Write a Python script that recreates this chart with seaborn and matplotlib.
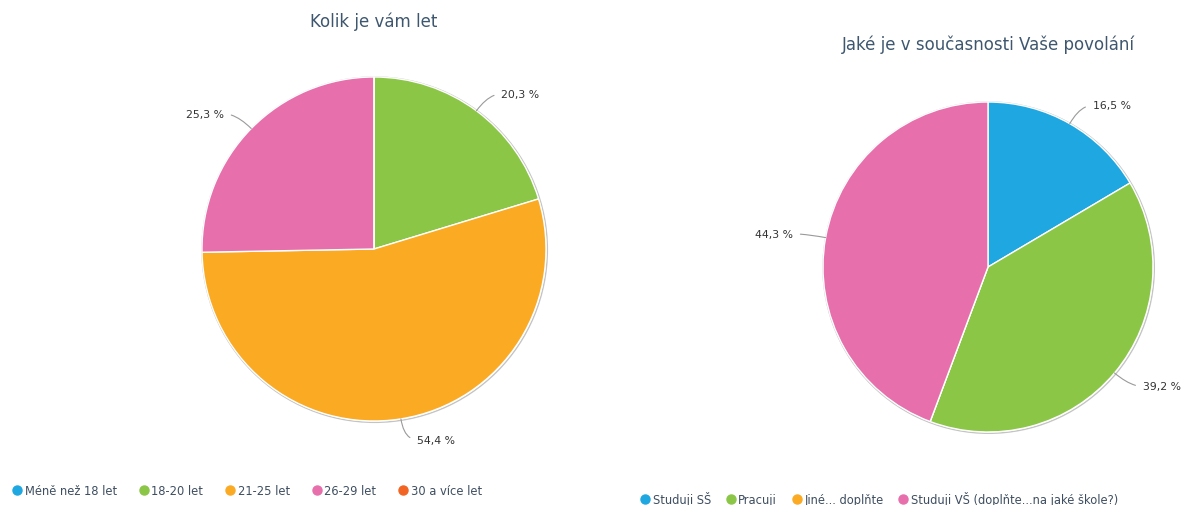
"""
Two survey pie charts (age, occupation) side by side.
"""

import numpy as np
import matplotlib
matplotlib.use("Agg")
import matplotlib.pyplot as plt
import seaborn as sns
from matplotlib.lines import Line2D
from matplotlib.patches import Circle

sns.set_theme(style="white")
plt.rcParams['font.family'] = ['DejaVu Sans']

# data
age_title = "Kolik je vám let"
age_labels = ["Méně než 18 let", "18-20 let", "21-25 let", "26-29 let", "30 a více let"]
age_values = [0.0, 20.3, 54.4, 25.3, 0.0]
age_colors = ["#1EA7E1", "#8BC647", "#FBAA24", "#E66FAC", "#F26423"]

job_title = "Jaké je v současnosti Vaše povolání"
job_labels = ["Studuji SŠ", "Pracuji", "Jiné... doplňte", "Studuji VŠ (doplňte...na jaké škole?)"]
job_values = [16.5, 39.2, 0.0, 44.3]
job_colors = ["#1EA7E1", "#8BC647", "#FBAA24", "#E66FAC"]

W, H = 1183, 506
TITLE_COLOR = "#3E576F"
LEGEND_COLOR = "#3E4E60"


def fmt_pct(v):
    return f"{v:.1f} %".replace(".", ",")


def draw_pie(fig, cx, cy, r, values, colors, title, title_y):
    lim = 1.35
    half = lim * r
    ax = fig.add_axes([(cx - half) / W, (H - cy - half) / H, 2 * half / W, 2 * half / H])
    # faint shadow ring round the pie
    ax.add_patch(Circle((0.004, -0.004), 1.004, facecolor="none",
                        edgecolor="#c4c4c4", lw=1.0, zorder=0))
    wedges, _ = ax.pie(values, colors=colors, startangle=90, counterclock=False,
                       wedgeprops=dict(edgecolor="white", linewidth=1.0))
    ax.set_xlim(-lim, lim)
    ax.set_ylim(-lim, lim)
    ax.axis("off")

    for w, v in zip(wedges, values):
        if v <= 0:
            continue
        ang = np.deg2rad((w.theta1 + w.theta2) / 2)
        x, y = np.cos(ang), np.sin(ang)
        side = 1 if x >= 0 else -1
        ax.annotate(fmt_pct(v), xy=(x, y),
                    xytext=(13 * side + 20 * x, 21 * y), textcoords="offset pixels",
                    ha="left" if side > 0 else "right", va="center",
                    fontsize=7.8, color="#333333",
                    arrowprops=dict(arrowstyle="-", color="#9a9a9a", lw=0.8,
                                    shrinkA=3, shrinkB=0,
                                    relpos=(0, 0.5) if side > 0 else (1, 0.5),
                                    connectionstyle=f"angle3,angleA=0,angleB={np.rad2deg(ang):.1f}"))

    fig.text(cx / W, 1 - title_y / H, title, ha="center", va="center",
             fontsize=12, color=TITLE_COLOR)
    return ax


def add_legend(fig, labels, colors, left, y, size, spacing):
    handles = [Line2D([0], [0], marker="o", linestyle="none", markersize=6.5,
                      markerfacecolor=c, markeredgecolor=c) for c in colors]
    fig.legend(handles, labels, loc="center left", bbox_to_anchor=(left / W, 1 - y / H),
               ncol=len(labels), frameon=False, fontsize=size, labelcolor=LEGEND_COLOR,
               handlelength=0.7, handletextpad=0.3, columnspacing=spacing,
               borderpad=0, borderaxespad=0)


fig = plt.figure(figsize=(W / 100, H / 100), dpi=100)
fig.patch.set_facecolor("white")

draw_pie(fig, 374, 250, 172, age_values, age_colors, age_title, 22)
draw_pie(fig, 988, 268, 165, job_values, job_colors, job_title, 45)

add_legend(fig, age_labels, age_colors, 13, 492, 8.3, 2.0)
add_legend(fig, job_labels, job_colors, 641, 500, 8.3, 1.37)

fig.savefig("out.png", dpi=100)
plt.close(fig)
